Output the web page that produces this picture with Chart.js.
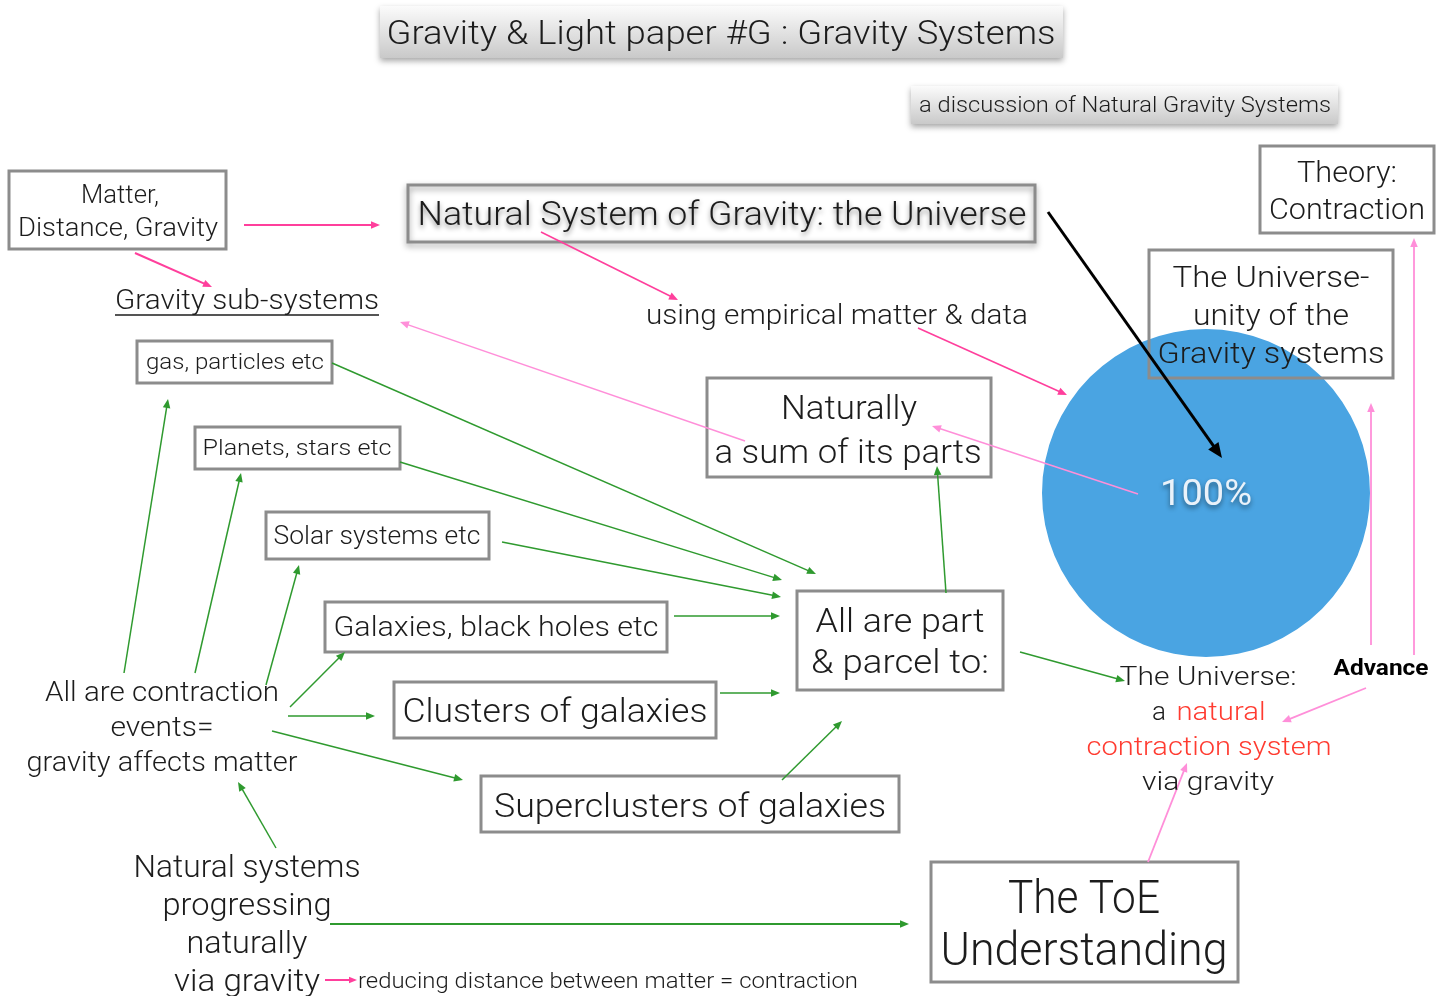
<!DOCTYPE html>
<html>
<head>
<meta charset="utf-8">
<title>Gravity Systems</title>
<script src="https://cdn.jsdelivr.net/npm/chart.js@4.4.1/dist/chart.umd.min.js"></script>
<style>
  html, body { margin: 0; padding: 0; background: #fff; }
  #wrap { width: 1447px; height: 996px; }
</style>
</head>
<body>
<div id="wrap"><canvas id="diagram" width="1447" height="996"></canvas></div>
<script>
// pie data
const sliceLabels = ['The Universe'];
const sliceValues = [100];
const sliceColors = ['#4aa4e2'];

const FONT = 'Roboto, "Liberation Sans", sans-serif';
const INK = '#1c1c1c';
const BORDER = '#8c8c8c';
const GREEN = '#2f9a2f';
const PINK = '#ff3f9c';
const LIGHT_PINK = '#ff8fd9';
const RED = '#ff3b30';

// draw a text line, stretched to a target width so it lines up with the picture
function text(ctx, str, x, y, size, width, opts) {
    opts = opts || {};
    ctx.save();
    ctx.font = (opts.weight || '300') + ' ' + size + 'px ' + FONT;
    ctx.fillStyle = opts.color || INK;
    ctx.textBaseline = 'middle';
    ctx.textAlign = 'center';
    if (opts.shadow) {
        ctx.shadowColor = 'rgba(0,0,0,0.45)';
        ctx.shadowBlur = 5;
        ctx.shadowOffsetY = 3;
    }
    const w = ctx.measureText(str).width;
    ctx.translate(x, y + size * 0.08);
    ctx.scale(width ? width / w : 1, 1);
    ctx.fillText(str, 0, 0);
    ctx.restore();
    return w;
}

function box(ctx, x1, y1, x2, y2, opts) {
    opts = opts || {};
    ctx.save();
    if (opts.fill !== false) {
        ctx.fillStyle = '#fff';
        ctx.fillRect(x1, y1, x2 - x1, y2 - y1);
    }
    if (opts.shadow) {
        ctx.shadowColor = 'rgba(0,0,0,0.4)';
        ctx.shadowBlur = 6;
        ctx.shadowOffsetY = 3;
    }
    ctx.strokeStyle = BORDER;
    ctx.lineWidth = 3;
    ctx.strokeRect(x1, y1, x2 - x1, y2 - y1);
    ctx.restore();
}

function banner(ctx, x1, y1, x2, y2) {
    ctx.save();
    const g = ctx.createLinearGradient(0, y1, 0, y2);
    g.addColorStop(0, '#fbfbfb');
    g.addColorStop(1, '#c9c9c9');
    ctx.shadowColor = 'rgba(0,0,0,0.35)';
    ctx.shadowBlur = 6;
    ctx.shadowOffsetY = 3;
    ctx.fillStyle = g;
    ctx.fillRect(x1, y1, x2 - x1, y2 - y1);
    ctx.restore();
}

function arrow(ctx, x1, y1, x2, y2, color, lw, head) {
    lw = lw || 1.5;
    head = head || 9;
    const a = Math.atan2(y2 - y1, x2 - x1);
    ctx.save();
    ctx.strokeStyle = color;
    ctx.fillStyle = color;
    ctx.lineWidth = lw;
    ctx.beginPath();
    ctx.moveTo(x1, y1);
    ctx.lineTo(x2 - Math.cos(a) * head * 0.8, y2 - Math.sin(a) * head * 0.8);
    ctx.stroke();
    ctx.beginPath();
    ctx.moveTo(x2, y2);
    ctx.lineTo(x2 - Math.cos(a) * head + Math.sin(a) * head * 0.42, y2 - Math.sin(a) * head - Math.cos(a) * head * 0.42);
    ctx.lineTo(x2 - Math.cos(a) * head - Math.sin(a) * head * 0.42, y2 - Math.sin(a) * head + Math.cos(a) * head * 0.42);
    ctx.closePath();
    ctx.fill();
    ctx.restore();
}

const backgroundPlugin = {
    id: 'background',
    beforeDraw(chart) {
        const ctx = chart.ctx;
        ctx.save();
        ctx.fillStyle = '#fff';
        ctx.fillRect(0, 0, chart.width, chart.height);
        ctx.restore();
    }
};

const diagramPlugin = {
    id: 'diagram',
    afterDatasetsDraw(chart) {
        const ctx = chart.ctx;
        const arc = chart.getDatasetMeta(0).data[0];
        const total = sliceValues.reduce((s, v) => s + v, 0);

        // banners
        banner(ctx, 380, 6, 1063, 58);
        text(ctx, 'Gravity & Light paper #G : Gravity Systems', 721, 33, 34, 669);
        banner(ctx, 911, 86, 1338, 124);
        text(ctx, 'a discussion of Natural Gravity Systems', 1125, 105, 22, 412);

        // boxes
        box(ctx, 9, 171, 226, 249);
        box(ctx, 408, 185, 1035, 242, { shadow: true });
        box(ctx, 1260, 146, 1434, 233);
        box(ctx, 1149, 250, 1393, 378, { fill: false });
        box(ctx, 137, 341, 332, 383);
        box(ctx, 195, 427, 400, 469);
        box(ctx, 266, 512, 489, 559);
        box(ctx, 325, 602, 667, 652);
        box(ctx, 394, 682, 716, 738);
        box(ctx, 481, 776, 899, 832);
        box(ctx, 797, 591, 1003, 690);
        box(ctx, 707, 378, 991, 477);
        box(ctx, 931, 862, 1238, 982);

        // arrows: strong pink
        arrow(ctx, 244, 225, 380, 225, PINK, 2);
        arrow(ctx, 135, 253, 212, 287, PINK, 2);
        arrow(ctx, 541, 232, 678, 300, PINK, 1.6);
        arrow(ctx, 918, 328, 1067, 395, PINK, 1.6);
        arrow(ctx, 325, 980, 357, 980, PINK, 2, 8);

        // arrows: light pink
        arrow(ctx, 745, 441, 400, 322, LIGHT_PINK, 1.5);
        arrow(ctx, 1138, 494, 932, 426, LIGHT_PINK, 1.5);
        arrow(ctx, 1371, 645, 1371, 403, LIGHT_PINK, 1.8);
        arrow(ctx, 1414, 655, 1414, 238, LIGHT_PINK, 1.8);
        arrow(ctx, 1366, 688, 1282, 722, LIGHT_PINK, 1.8);
        arrow(ctx, 1148, 862, 1187, 763, LIGHT_PINK, 1.8);

        // arrows: green
        arrow(ctx, 124, 673, 168, 399, GREEN);
        arrow(ctx, 195, 673, 241, 473, GREEN);
        arrow(ctx, 266, 685, 299, 565, GREEN);
        arrow(ctx, 290, 707, 345, 652, GREEN);
        arrow(ctx, 288, 716, 375, 716, GREEN);
        arrow(ctx, 272, 731, 463, 780, GREEN);
        arrow(ctx, 332, 363, 816, 574, GREEN);
        arrow(ctx, 400, 462, 782, 580, GREEN);
        arrow(ctx, 502, 542, 781, 597, GREEN);
        arrow(ctx, 674, 616, 780, 616, GREEN);
        arrow(ctx, 720, 693, 780, 693, GREEN);
        arrow(ctx, 782, 780, 842, 721, GREEN);
        arrow(ctx, 946, 593, 937, 466, GREEN);
        arrow(ctx, 1020, 652, 1125, 681, GREEN);
        arrow(ctx, 276, 848, 238, 782, GREEN);
        arrow(ctx, 330, 924, 909, 924, GREEN, 2);

        // black arrow into the pie
        arrow(ctx, 1048, 212, 1222, 458, '#000', 3, 15);

        // texts
        text(ctx, 'Matter,', 120, 195, 25, 78);
        text(ctx, 'Distance, Gravity', 118, 228, 25, 200);
        text(ctx, 'Gravity sub-systems', 247, 300, 27, 264);
        ctx.save();
        ctx.strokeStyle = INK;
        ctx.lineWidth = 1.3;
        ctx.beginPath();
        ctx.moveTo(115, 315);
        ctx.lineTo(379, 315);
        ctx.stroke();
        ctx.restore();

        text(ctx, 'Natural System of Gravity: the Universe', 722, 214, 34, 609, { shadow: true });
        text(ctx, 'using empirical matter & data', 837, 315, 28, 382);
        text(ctx, 'Theory:', 1347, 172, 30, 100);
        text(ctx, 'Contraction', 1347, 209, 30, 156);
        text(ctx, 'The Universe-', 1271, 277, 30, 197);
        text(ctx, 'unity of the', 1271, 315, 30, 156);
        text(ctx, 'Gravity systems', 1271, 353, 30, 227);

        text(ctx, Math.round(sliceValues[0] / total * 100) + '%', arc.x, arc.y, 36, 92,
            { color: '#eaf2fa', weight: '400', shadow: true });

        text(ctx, 'gas, particles etc', 235, 362, 22, 178);
        text(ctx, 'Planets, stars etc', 297, 448, 22, 189);
        text(ctx, 'Solar systems etc', 377, 536, 25, 207);
        text(ctx, 'Galaxies, black holes etc', 496, 627, 28, 325);
        text(ctx, 'Clusters of galaxies', 555, 711, 34, 305);
        text(ctx, 'Superclusters of galaxies', 690, 806, 34, 392);
        text(ctx, 'All are part', 900, 621, 33, 169);
        text(ctx, '& parcel to:', 900, 662, 33, 178);
        text(ctx, 'Naturally', 849, 408, 33, 136);
        text(ctx, 'a sum of its parts', 848, 452, 33, 267);

        text(ctx, 'All are contraction', 162, 692, 28, 234);
        text(ctx, 'events=', 162, 727, 28, 103);
        text(ctx, 'gravity affects matter', 162, 762, 28, 271);

        text(ctx, 'Natural systems', 247, 866, 32, 227);
        text(ctx, 'progressing', 247, 904, 32, 169);
        text(ctx, 'naturally', 247, 942, 32, 121);
        text(ctx, 'via gravity', 247, 980, 32, 146);
        text(ctx, 'reducing distance between matter = contraction', 608, 981, 22, 500);

        text(ctx, 'The ToE', 1084, 898, 46, 152);
        text(ctx, 'Understanding', 1084, 950, 46, 287);

        text(ctx, 'The Universe:', 1208, 676, 26, 177);
        text(ctx, 'a', 1159, 711, 26, 14);
        text(ctx, 'natural', 1221, 711, 26, 89, { color: RED });
        text(ctx, 'contraction system', 1209, 746, 26, 245, { color: RED });
        text(ctx, 'via gravity', 1208, 781, 26, 132);
        text(ctx, 'Advance', 1381, 668, 22, 95, { weight: '700', color: '#000' });
    }
};

const ctx = document.getElementById('diagram').getContext('2d');
const chart = new Chart(ctx, {
    type: 'pie',
    data: {
        labels: sliceLabels,
        datasets: [{
            data: sliceValues,
            backgroundColor: sliceColors,
            borderWidth: 0
        }]
    },
    options: {
        responsive: false,
        animation: false,
        devicePixelRatio: 1,
        layout: {
            padding: { left: 1042, right: 77, top: 329, bottom: 339 }
        },
        plugins: {
            legend: { display: false },
            tooltip: { enabled: false }
        }
    },
    plugins: [backgroundPlugin, diagramPlugin]
});
</script>
</body>
</html>
